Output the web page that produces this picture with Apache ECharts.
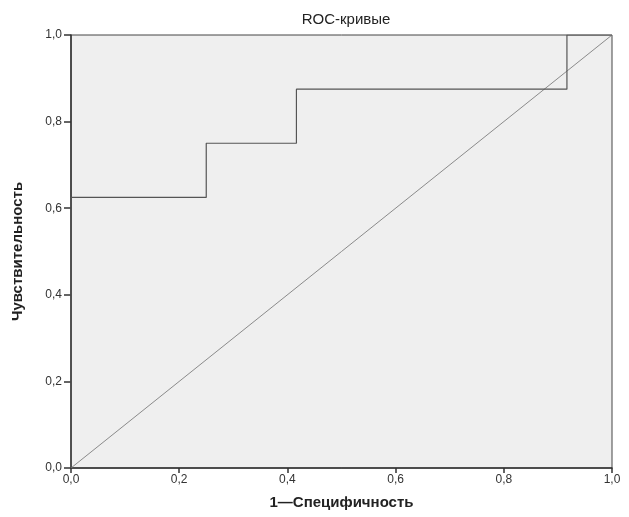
<!DOCTYPE html>
<html>
<head>
<meta charset="utf-8">
<script src="https://cdn.jsdelivr.net/npm/echarts@6/dist/echarts.min.js"></script>
<style>
  html, body { margin: 0; padding: 0; background: #fff; }
  #main { width: 629px; height: 517px; }
</style>
</head>
<body>
<div id="main"></div>
<script>
  // ROC curve points (1 - specificity, sensitivity)
  var fpr = [0, 0, 0.25, 0.25, 0.4167, 0.4167, 0.9167, 0.9167, 1];
  var tpr = [0, 0.625, 0.625, 0.75, 0.75, 0.875, 0.875, 1, 1];
  var refX = [0, 1];
  var refY = [0, 1];

  var fmt = function (v) { return v.toFixed(1).replace(".", ","); };

  var chartDom = document.getElementById("main");
  var myChart = echarts.init(chartDom);
  var option;

  option = {
    animation: false,
    title: {
      text: "ROC-кривые",
      left: 341,
      textAlign: "center",
      top: 7,
      textStyle: { fontFamily: "Liberation Sans", fontSize: 15, fontWeight: "normal", color: "#222" }
    },
    grid: {
      left: 71, right: 17, top: 35, bottom: 49,
      show: true, backgroundColor: "#efefef", borderColor: "#444", borderWidth: 1
    },
    xAxis: {
      type: "value", min: 0, max: 1, interval: 0.2,
      name: "1\u2014Специфичность", nameLocation: "middle", nameGap: 27,
      nameTextStyle: { fontFamily: "Liberation Sans", fontSize: 15, fontWeight: "bold", color: "#222" },
      axisLine: { show: true, lineStyle: { color: "#333", width: 1.5 } },
      axisTick: { show: true, length: 5, lineStyle: { color: "#333", width: 1.5 } },
      splitLine: { show: false },
      axisLabel: { formatter: fmt, fontFamily: "Liberation Sans", fontSize: 12, color: "#333", margin: 6 }
    },
    yAxis: {
      type: "value", min: 0, max: 1, interval: 0.2,
      name: "Чувствительность", nameLocation: "middle", nameGap: 46,
      nameTextStyle: { fontFamily: "Liberation Sans", fontSize: 15, fontWeight: "bold", color: "#222" },
      axisLine: { show: true, lineStyle: { color: "#333", width: 1.5 } },
      axisTick: { show: true, length: 7, lineStyle: { color: "#333", width: 1.5 } },
      splitLine: { show: false },
      axisLabel: { formatter: fmt, fontFamily: "Liberation Sans", fontSize: 12, color: "#333", margin: 9 }
    },
    series: [
      {
        type: "line",
        data: refX.map(function (x, i) { return [x, refY[i]]; }),
        showSymbol: false,
        lineStyle: { color: "#8a8a8a", width: 1 }
      },
      {
        type: "line",
        data: fpr.map(function (x, i) { return [x, tpr[i]]; }),
        showSymbol: false,
        lineStyle: { color: "#555", width: 1.2 }
      }
    ]
  };

  option && myChart.setOption(option);
</script>
</body>
</html>
